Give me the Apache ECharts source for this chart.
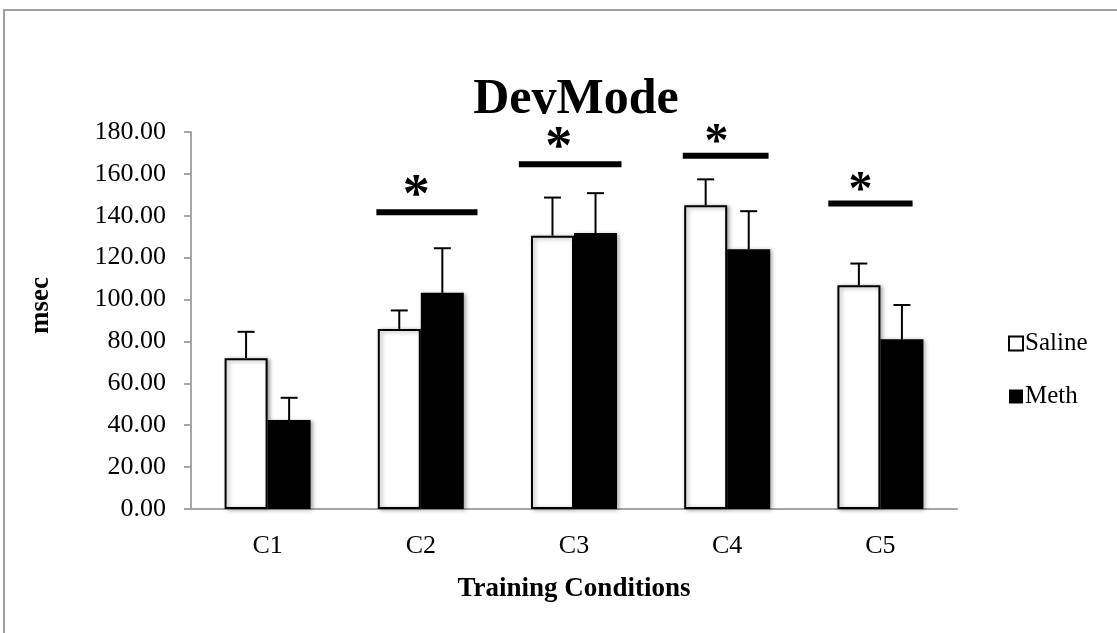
<!DOCTYPE html>
<html>
<head>
<meta charset="utf-8">
<title>DevMode</title>
<script src="https://cdn.jsdelivr.net/npm/echarts@6/dist/echarts.min.js"></script>
<style>
  html, body { margin: 0; padding: 0; background: #ffffff; }
  #chart { width: 1117px; height: 633px; }
</style>
</head>
<body>
<div id="chart"></div>
<script>
// Training conditions on the category axis
const categories = ['C1', 'C2', 'C3', 'C4', 'C5'];

// Mean response time (msec) per group
const salineMeans = [72.0, 86.0, 130.5, 145.0, 106.8];
const methMeans   = [42.5, 103.2, 131.8, 124.0, 81.0];

// Upper error (SEM) per group
const salineErr = [12.6, 8.8, 18.2, 12.4, 10.4];
const methErr   = [10.6, 21.3, 19.0, 18.2, 16.4];

// Y axis ticks
const yMin = 0, yMax = 180, yStep = 20;

// Significance brackets: category, height (msec), span in category units around the centre
const sigCats  = ['C2', 'C3', 'C4', 'C5'];
const sigLevel = [141.7, 164.6, 168.7, 145.9];
const sigFrom  = [-0.29, -0.36, -0.29, -0.34];
const sigTo    = [0.37, 0.31, 0.27, 0.21];
const sigStar  = [-0.03, -0.10, -0.07, -0.13];

const SERIF = '"Liberation Serif", "DejaVu Serif", serif';
const axisGray = '#a6a6a6';

const chart = echarts.init(document.getElementById('chart'), null, { renderer: 'canvas' });

function errorItem(params, api) {
  const x = api.value(0);
  const mean = api.value(1);
  const err = api.value(2);
  const offset = api.value(3);
  const band = api.size([1, 0])[0];
  const p0 = api.coord([x, mean]);
  const p1 = api.coord([x, mean + err]);
  const cx = p0[0] + offset * band;
  const half = 8.5;
  const style = { stroke: '#000', lineWidth: 2 };
  return {
    type: 'group',
    children: [
      { type: 'line', shape: { x1: cx, y1: p0[1], x2: cx, y2: p1[1] }, style: style },
      { type: 'line', shape: { x1: cx - half, y1: p1[1], x2: cx + half, y2: p1[1] }, style: style }
    ]
  };
}

function sigItem(params, api) {
  const x = api.value(0);
  const level = api.value(1);
  const band = api.size([1, 0])[0];
  const p = api.coord([x, level]);
  const big = api.value(5);
  return {
    type: 'group',
    children: [
      {
        type: 'line',
        shape: { x1: p[0] + api.value(2) * band, y1: p[1], x2: p[0] + api.value(3) * band, y2: p[1] },
        style: { stroke: '#000', lineWidth: 6 }
      },
      {
        type: 'text',
        x: p[0] + api.value(4) * band,
        y: p[1] + 12,
        style: {
          text: '*',
          fill: '#000',
          font: 'bold ' + (big ? 54 : 48) + 'px ' + SERIF,
          align: 'center',
          verticalAlign: 'bottom'
        }
      }
    ]
  };
}

// bar offsets within a category: saline left, meth right
const barOffset = 43 / 153 / 2;

const salineErrData = categories.map((c, i) => [i, salineMeans[i], salineErr[i], -barOffset]);
const methErrData = categories.map((c, i) => [i, methMeans[i], methErr[i], barOffset]);
const sigData = sigCats.map((c, i) => [categories.indexOf(c), sigLevel[i], sigFrom[i], sigTo[i], sigStar[i], i < 2 ? 1 : 0]);

const barShadow = {
  shadowColor: 'rgba(0,0,0,0.35)',
  shadowBlur: 4,
  shadowOffsetX: 2,
  shadowOffsetY: 1
};

chart.setOption({
  animation: false,
  backgroundColor: '#ffffff',
  graphic: [
    {
      type: 'rect',
      shape: { x: 4, y: 10, width: 1200, height: 700 },
      style: { fill: 'none', stroke: '#a0a0a0', lineWidth: 2 },
      silent: true
    }
  ],
  title: {
    text: 'DevMode',
    left: 571,
    top: 70,
    textAlign: 'center',
    textStyle: { fontFamily: SERIF, fontSize: 50, fontWeight: 'bold', color: '#000' }
  },
  legend: {
    orient: 'vertical',
    left: 1003,
    top: 326,
    icon: 'rect',
    itemWidth: 14,
    itemHeight: 14,
    itemGap: 28,
    data: ['Saline', 'Meth'],
    textStyle: { fontFamily: SERIF, fontSize: 25, color: '#000', padding: [0, 0, 0, -3] }
  },
  grid: { left: 191, right: 160, top: 132, bottom: 124 },
  xAxis: {
    type: 'category',
    data: categories,
    name: 'Training Conditions',
    nameLocation: 'middle',
    nameGap: 67,
    nameTextStyle: { fontFamily: SERIF, fontSize: 27, fontWeight: 'bold', color: '#000' },
    axisLine: { lineStyle: { color: axisGray, width: 2 } },
    axisTick: { length: 7, lineStyle: { color: axisGray, width: 2 } },
    axisLabel: { fontFamily: SERIF, fontSize: 26, color: '#000', margin: 24 }
  },
  yAxis: {
    type: 'value',
    min: yMin,
    max: yMax,
    interval: yStep,
    name: 'msec',
    nameLocation: 'middle',
    nameRotate: 90,
    nameGap: 136,
    nameTextStyle: { fontFamily: SERIF, fontSize: 27, fontWeight: 'bold', color: '#000', padding: [0, 0, 0, 30] },
    axisLine: { show: true, lineStyle: { color: axisGray, width: 2 } },
    axisTick: { show: true, length: 7, lineStyle: { color: axisGray, width: 2 } },
    splitLine: { show: false },
    axisLabel: {
      fontFamily: SERIF, fontSize: 26, color: '#000', margin: 25,
      formatter: v => v.toFixed(2)
    }
  },
  series: [
    {
      name: 'Saline',
      type: 'bar',
      data: salineMeans,
      barWidth: 43,
      barGap: '0%',
      itemStyle: Object.assign({ color: '#ffffff', borderColor: '#000', borderWidth: 2 }, barShadow)
    },
    {
      name: 'Meth',
      type: 'bar',
      data: methMeans,
      barWidth: 43,
      barGap: '0%',
      itemStyle: Object.assign({ color: '#000000', borderColor: '#000', borderWidth: 0 }, barShadow)
    },
    {
      type: 'custom',
      renderItem: errorItem,
      data: salineErrData,
      encode: { x: 0, y: 1 },
      z: 5,
      silent: true
    },
    {
      type: 'custom',
      renderItem: errorItem,
      data: methErrData,
      encode: { x: 0, y: 1 },
      z: 5,
      silent: true
    },
    {
      type: 'custom',
      renderItem: sigItem,
      data: sigData,
      encode: { x: 0, y: 1 },
      z: 6,
      silent: true
    }
  ]
});
</script>
</body>
</html>
